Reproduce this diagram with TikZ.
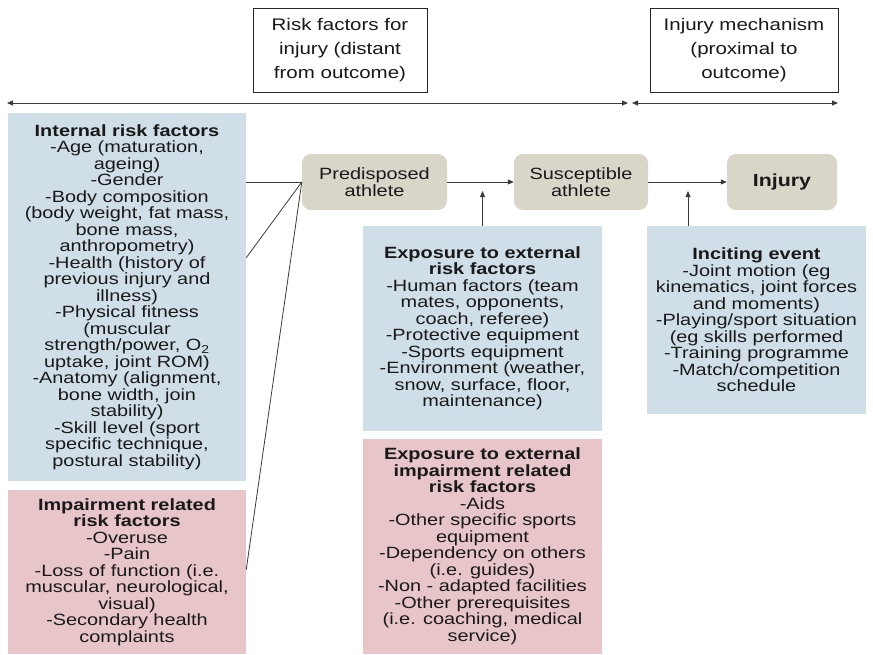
\documentclass[tikz,border=0pt]{standalone}
\usepackage{fontspec}
\setmainfont[FakeStretch=1.22]{Liberation Sans}
\usetikzlibrary{arrows.meta,calc}
\definecolor{boxblue}{HTML}{D0DFE7}
\definecolor{boxpink}{HTML}{E8C5C9}
\definecolor{boxtan}{HTML}{D9D5C8}
\definecolor{linegray}{HTML}{3A3A3A}
\begin{document}
\begin{tikzpicture}[x=1pt,y=-1pt,
  txt/.style={font=\fontsize{16.3}{16.5}\selectfont, align=center, inner sep=0pt, text=black!90},
  bluebox/.style={txt, fill=boxblue},
  pinkbox/.style={txt, fill=boxpink},
  tanbox/.style={txt, fill=boxtan, rounded corners=9pt, minimum width=145pt, minimum height=56pt},
  topbox/.style={draw=black!85, line width=0.8pt, fill=white, align=center, inner sep=0pt, text=black!90, font=\fontsize{16.8}{23.7}\selectfont},
  conn/.style={draw=linegray, line width=0.8pt},
  arr/.style={conn, -{Triangle[length=6pt,width=5pt]}},
  darr/.style={conn, {Triangle[length=6pt,width=5pt]}-{Triangle[length=6pt,width=5pt]}}
]
\useasboundingbox (0,0) rectangle (873,654);

% header boxes
\node[topbox, minimum width=174pt, minimum height=84pt] (riskhdr) at (340,50)
  {Risk factors for\\injury (distant\\from outcome)};
\node[topbox, minimum width=188pt, minimum height=84pt] (mechhdr) at (744,50)
  {Injury mechanism\\(proximal to\\outcome)};

% timeline arrows
\coordinate (tl1) at (7,103);
\coordinate (tl2) at (628,103);
\coordinate (tl3) at (632,103);
\coordinate (tl4) at (838,103);
\draw[darr] (tl1) -- (tl2);
\draw[darr] (tl3) -- (tl4);

% stage boxes
\node[tanbox] (pre) at (374.5,182) {Predisposed\\athlete};
\node[tanbox, minimum width=134pt] (sus) at (581,182) {Susceptible\\athlete};
\node[tanbox, minimum width=110pt, font=\fontsize{17.5}{18}\selectfont\bfseries] (inj) at (782,182) {Injury};

% factor boxes
\node[bluebox, minimum width=238pt, minimum height=368pt] (internal) at (127,297)
  {\textbf{Internal risk factors}\\
   -Age (maturation,\\ageing)\\-Gender\\-Body composition\\(body weight, fat mass,\\bone mass,\\anthropometry)\\
   -Health (history of\\previous injury and\\illness)\\-Physical fitness\\(muscular\\
   strength/power, O\textsubscript{2}\\uptake, joint ROM)\\-Anatomy (alignment,\\bone width, join\\stability)\\
   -Skill level (sport\\specific technique,\\postural stability)};

\node[pinkbox, minimum width=238pt, minimum height=164pt] (impair) at (127,572)
  {\textbf{Impairment related}\\\textbf{risk factors}\\-Overuse\\-Pain\\-Loss of function (i.e.\\
   muscular, neurological,\\visual)\\-Secondary health\\complaints};

\node[bluebox, minimum width=239pt, minimum height=205pt] (external) at (482.5,328.5)
  {\textbf{Exposure to external}\\\textbf{risk factors}\\-Human factors (team\\mates, opponents,\\
   coach, referee)\\-Protective equipment\\-Sports equipment\\-Environment (weather,\\
   snow, surface, floor,\\maintenance)};

\node[pinkbox, minimum width=239pt, minimum height=215pt] (extimp) at (482.5,546.5)
  {\textbf{Exposure to external}\\\textbf{impairment related}\\\textbf{risk factors}\\-Aids\\
   -Other specific sports\\equipment\\-Dependency on others\\(i.e. guides)\\
   -Non - adapted facilities\\-Other prerequisites\\(i.e. coaching, medical\\service)};

\node[bluebox, minimum width=219pt, minimum height=188pt] (inciting) at (756.5,320)
  {\textbf{Inciting event}\\-Joint motion (eg\\kinematics, joint forces\\and moments)\\
   -Playing/sport situation\\(eg skills performed\\-Training programme\\-Match/competition\\schedule};

% connectors into predisposed athlete
\coordinate (intA) at ($(internal.north east)+(0,145)$);
\coordinate (impA) at ($(impair.north east)+(0,80)$);
\draw[conn] (internal.east |- pre.west) -- (pre.west);
\draw[conn] (intA) -- (pre.west);
\draw[conn] (impA) -- (pre.west);

% main chain
\draw[arr] (pre.east) -- (sus.west);
\draw[arr] (sus.east) -- (inj.west);

% vertical arrows
\coordinate (extTip) at (482.5,191);
\coordinate (incTip) at (688,191);
\draw[arr] (external.north) -- (extTip);
\draw[arr] (inciting.north -| incTip) -- (incTip);
\end{tikzpicture}
\end{document}
